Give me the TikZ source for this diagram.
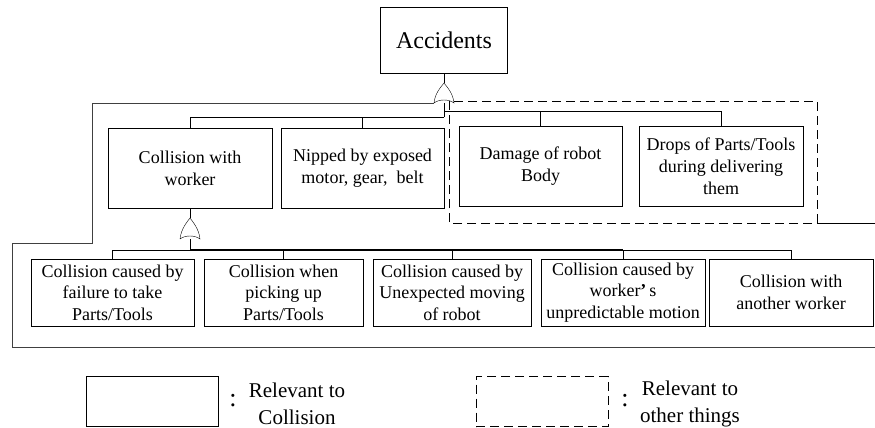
\documentclass[tikz,border=0pt]{standalone}
\usepackage{fontspec}
\setmainfont{Liberation Serif}
\usetikzlibrary{positioning,calc}

\begin{document}
\begin{tikzpicture}[x=1pt,y=-1pt,
    box/.style={draw, align=center, inner sep=2pt, font=\fontsize{18}{22}\selectfont},
    gate/.style={inner sep=0pt, outer sep=0pt, minimum width=20pt, minimum height=20pt},
    zone/.style={dash pattern=on 9pt off 5pt},
    key/.style={align=center, font=\fontsize{21}{27}\selectfont}]
    \useasboundingbox (0,0) rectangle (875,428);
    % top event
    \node[draw, minimum width=127pt, minimum height=66pt, font=\fontsize{24}{28}\selectfont] (acc) at (444,40) {Accidents};
    \node[gate] (g1) at (444,93) {};
    % second level
    \node[box, minimum width=164pt, minimum height=80pt] (cw) at (190,168) {Collision with\\worker};
    \node[box, minimum width=163pt, minimum height=80pt] (nm) at (362.5,168) {Nipped by exposed\\motor, gear,~ belt};
    \node[box, minimum width=163pt, minimum height=80pt] (dr) at (540.5,166) {Damage of robot\\Body};
    \node[box, minimum width=164pt, minimum height=80pt] (dp) at (721,166) {Drops of Parts/Tools\\during delivering\\them};
    \node[gate, minimum height=21pt] (g2) at (190,228.5) {};
    % third level
    \node[box, minimum width=163pt, minimum height=67pt, font=\fontsize{18}{21.5}\selectfont] (ca) at (112.5,292.5) {Collision caused by\\failure to take\\Parts/Tools};
    \node[box, minimum width=159pt, minimum height=67pt, font=\fontsize{18}{21.5}\selectfont] (cb) at (283.5,292.5) {Collision when\\picking up\\Parts/Tools};
    \node[box, minimum width=158pt, minimum height=67pt, font=\fontsize{18}{21.5}\selectfont] (cc) at (452,292.5) {Collision caused by\\Unexpected moving\\of robot};
    \node[box, minimum width=164pt, minimum height=67pt, font=\fontsize{18}{21.5}\selectfont] (cd) at (623,292.5) {Collision caused by\\worker{\bfseries ’}\,s\\unpredictable motion};
    \node[box, minimum width=164pt, minimum height=67pt, font=\fontsize{18}{21.5}\selectfont] (ce) at (791,292.5) {Collision with\\another worker};

    % OR gates
    \foreach \g in {g1,g2}
        \draw (\g.south west) .. controls +(1,-10) and +(-3,4) .. (\g.north) .. controls +(3,4) and +(-1,-10) .. (\g.south east) .. controls +(-5,-4) and +(5,-4) .. (\g.south west);

    % connections
    \draw (acc.south) -- (g1.north);
    \draw (g1.south) -- ++(0,14) coordinate (lbus);
    \path (g1.south) ++(0,8) coordinate (rbus);
    \draw (lbus) -| (cw.north);
    \draw (lbus) -| (nm.north);
    \draw (rbus) -| (dr.north);
    \draw (rbus) -| (dp.north);
    \draw (cw.south) -- (g2.north);
    \draw (g2.south) -- ++(0,11) coordinate (bus2);
    \foreach \n in {ca,cb,cc,cd,ce}
        \draw (bus2) -| (\n.north);
    \draw[line width=1.3pt] (bus2) -- (bus2 -| cd.north);

    % boundaries
    \draw[black!75, line width=0.9pt] (g1.south west) -- (92,103) -- (92,243) -- (12,243) -- (12,347) -- (875,347);
    \draw[zone] (454,101) -- (817,101) -- (817,223) -- (449,223) -- (449,101);
    \draw (817,223) -- (875,223);

    % legend
    \node[draw, minimum width=132pt, minimum height=50pt] (keysolid) at (152,401) {};
    \node[font=\fontsize{26}{26}\selectfont] (colon1) at (233,401) {:};
    \node[key] (keytext1) at (297,404) {Relevant to\\Collision};
    \node[draw, zone, minimum width=132pt, minimum height=50pt] (keydash) at (542,401.5) {};
    \node[font=\fontsize{26}{26}\selectfont] (colon2) at (625,401) {:};
    \node[key] (keytext2) at (690,404) {Relevant to\\other things};
\end{tikzpicture}
\end{document}
